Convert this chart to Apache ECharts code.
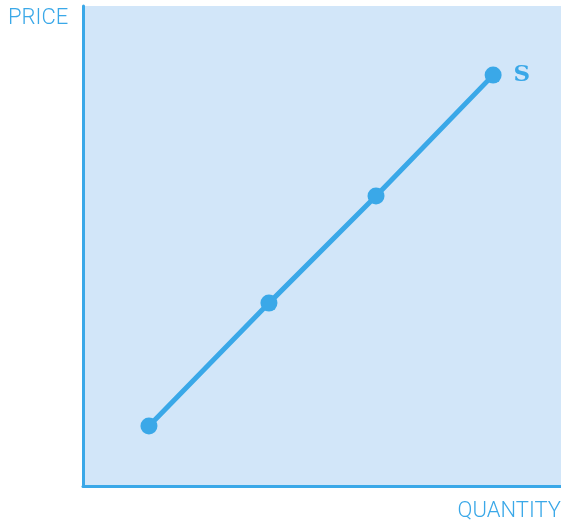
<!DOCTYPE html>
<html>
<head>
<meta charset="utf-8">
<script src="https://cdn.jsdelivr.net/npm/echarts@6/dist/echarts.min.js"></script>
<style>
  html, body { margin: 0; padding: 0; background: #fff; }
  #chart { width: 561px; height: 524px; }
</style>
</head>
<body>
<div id="chart"></div>
<script>
// supply curve points (quantity, price) on a 0-100 scale
var quantity = [13.8, 38.9, 61.3, 85.8]
var price = [12.5, 38.1, 60.4, 85.6]
var curveName = 'S'
var xTitle = 'QUANTITY'
var yTitle = 'PRICE'

var blue = '#3aa8e8'
var myChart = echarts.init(document.getElementById('chart'))

var points = quantity.map(function (q, i) { return [q, price[i]] })

var option = {
  animation: false,
  grid: {
    left: 83,
    top: 6,
    right: 0,
    bottom: 38,
    show: true,
    backgroundColor: '#d2e6f9',
    borderWidth: 0
  },
  xAxis: {
    type: 'value',
    min: 0,
    max: 100,
    axisLine: { show: true, lineStyle: { color: blue, width: 3 } },
    axisTick: { show: false },
    axisLabel: { show: false },
    splitLine: { show: false }
  },
  yAxis: {
    type: 'value',
    min: 0,
    max: 100,
    axisLine: { show: true, lineStyle: { color: blue, width: 3 } },
    axisTick: { show: false },
    axisLabel: { show: false },
    splitLine: { show: false }
  },
  graphic: [
    {
      type: 'text',
      left: 8,
      top: 7,
      style: { text: yTitle, fill: blue, font: '300 22px Roboto' }
    },
    {
      type: 'text',
      right: 0,
      top: 500,
      style: { text: xTitle, fill: blue, font: '300 22px Roboto' }
    }
  ],
  series: [{
    name: curveName,
    type: 'line',
    data: points,
    symbol: 'circle',
    symbolSize: 17,
    itemStyle: { color: blue },
    lineStyle: { color: blue, width: 5 },
    label: {
      show: true,
      position: 'right',
      distance: 12,
      formatter: function (p) {
        return p.dataIndex === points.length - 1 ? curveName : ''
      },
      color: blue,
      fontFamily: 'DejaVu Serif',
      fontWeight: 'bold',
      fontSize: 23
    }
  }]
}

myChart.setOption(option)
</script>
</body>
</html>
